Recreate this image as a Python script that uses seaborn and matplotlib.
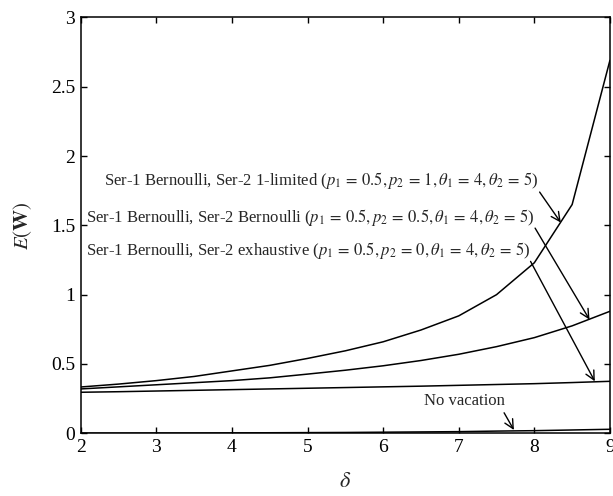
import matplotlib
matplotlib.use("Agg")
import matplotlib.pyplot as plt
import seaborn as sns
import pandas as pd

delta = [2, 2.5, 3, 3.5, 4, 4.5, 5, 5.5, 6, 6.5, 7, 7.5, 8, 8.5, 9]
ew_1limited = [0.334, 0.355, 0.38, 0.41, 0.45, 0.49, 0.54, 0.595, 0.66, 0.745, 0.847, 1.0, 1.23, 1.65, 2.69]
ew_bernoulli = [0.32, 0.335, 0.35, 0.365, 0.38, 0.40, 0.427, 0.455, 0.487, 0.525, 0.57, 0.625, 0.69, 0.775, 0.88]
ew_exhaustive = [0.296, 0.30, 0.305, 0.31, 0.315, 0.32, 0.325, 0.33, 0.335, 0.34, 0.346, 0.352, 0.358, 0.366, 0.375]
ew_novacation = [0.001, 0.001, 0.002, 0.002, 0.003, 0.004, 0.005, 0.006, 0.008, 0.010, 0.012, 0.016, 0.019, 0.024, 0.029]

labels = [
    r"Ser-1 Bernoulli, Ser-2 1-limited ($p_1\,=\,0.5, p_2\,=\,1, \theta_1\,=\,4, \theta_2\,=\,5$)",
    r"Ser-1 Bernoulli, Ser-2 Bernoulli ($p_1\,=\,0.5, p_2\,=\,0.5, \theta_1\,=\,4, \theta_2\,=\,5$)",
    r"Ser-1 Bernoulli, Ser-2 exhaustive ($p_1\,=\,0.5, p_2\,=\,0, \theta_1\,=\,4, \theta_2\,=\,5$)",
    "No vacation",
]

sns.set_style("ticks")
plt.rcParams["font.family"] = ["Liberation Serif", "DejaVu Serif"]
plt.rcParams["mathtext.fontset"] = "stix"

fig = plt.figure(figsize=(6.13, 4.96), dpi=100)
ax = fig.add_axes([0.1317, 0.1264, 0.8633, 0.8386])

series = [ew_1limited, ew_bernoulli, ew_exhaustive, ew_novacation]
for ys in series:
    df = pd.DataFrame({"delta": delta, "EW": ys})
    sns.lineplot(data=df, x="delta", y="EW", ax=ax, color="black", linewidth=1.1)

ax.set_xlim(2, 9)
ax.set_ylim(0, 3)
ax.set_xticks([2, 3, 4, 5, 6, 7, 8, 9])
ax.set_yticks([0, 0.5, 1, 1.5, 2, 2.5, 3])
ax.set_yticklabels(["0", "0.5", "1", "1.5", "2", "2.5", "3"])
ax.tick_params(direction="in", top=True, right=True, labelsize=14, length=4, width=1, colors="black", pad=4)
for s in ax.spines.values():
    s.set_visible(True)
    s.set_color("black")
    s.set_linewidth(1.1)
ax.set_xlabel(r"$\delta$", fontsize=16, labelpad=12)
ax.set_ylabel(r"$E(\mathbf{W})$", fontsize=15, labelpad=12)

arrow = dict(arrowstyle="->", color="black", lw=1, shrinkA=0, shrinkB=0, mutation_scale=16)
ax.annotate("", xy=(8.35, 1.52), xytext=(8.07, 1.74), arrowprops=arrow)
ax.annotate("", xy=(8.73, 0.82), xytext=(8.01, 1.48), arrowprops=arrow)
ax.annotate("", xy=(8.8, 0.375), xytext=(7.95, 1.24), arrowprops=arrow)
ax.annotate("", xy=(7.73, 0.024), xytext=(7.6, 0.148), arrowprops=arrow)

ax.text(8.05, 1.826, labels[0], ha="right", va="center", fontsize=12)
ax.text(8.01, 1.56, labels[1], ha="right", va="center", fontsize=12)
ax.text(7.95, 1.32, labels[2], ha="right", va="center", fontsize=12)
ax.text(7.07, 0.235, labels[3], ha="center", va="center", fontsize=12)

fig.savefig("out.png", dpi=100)
